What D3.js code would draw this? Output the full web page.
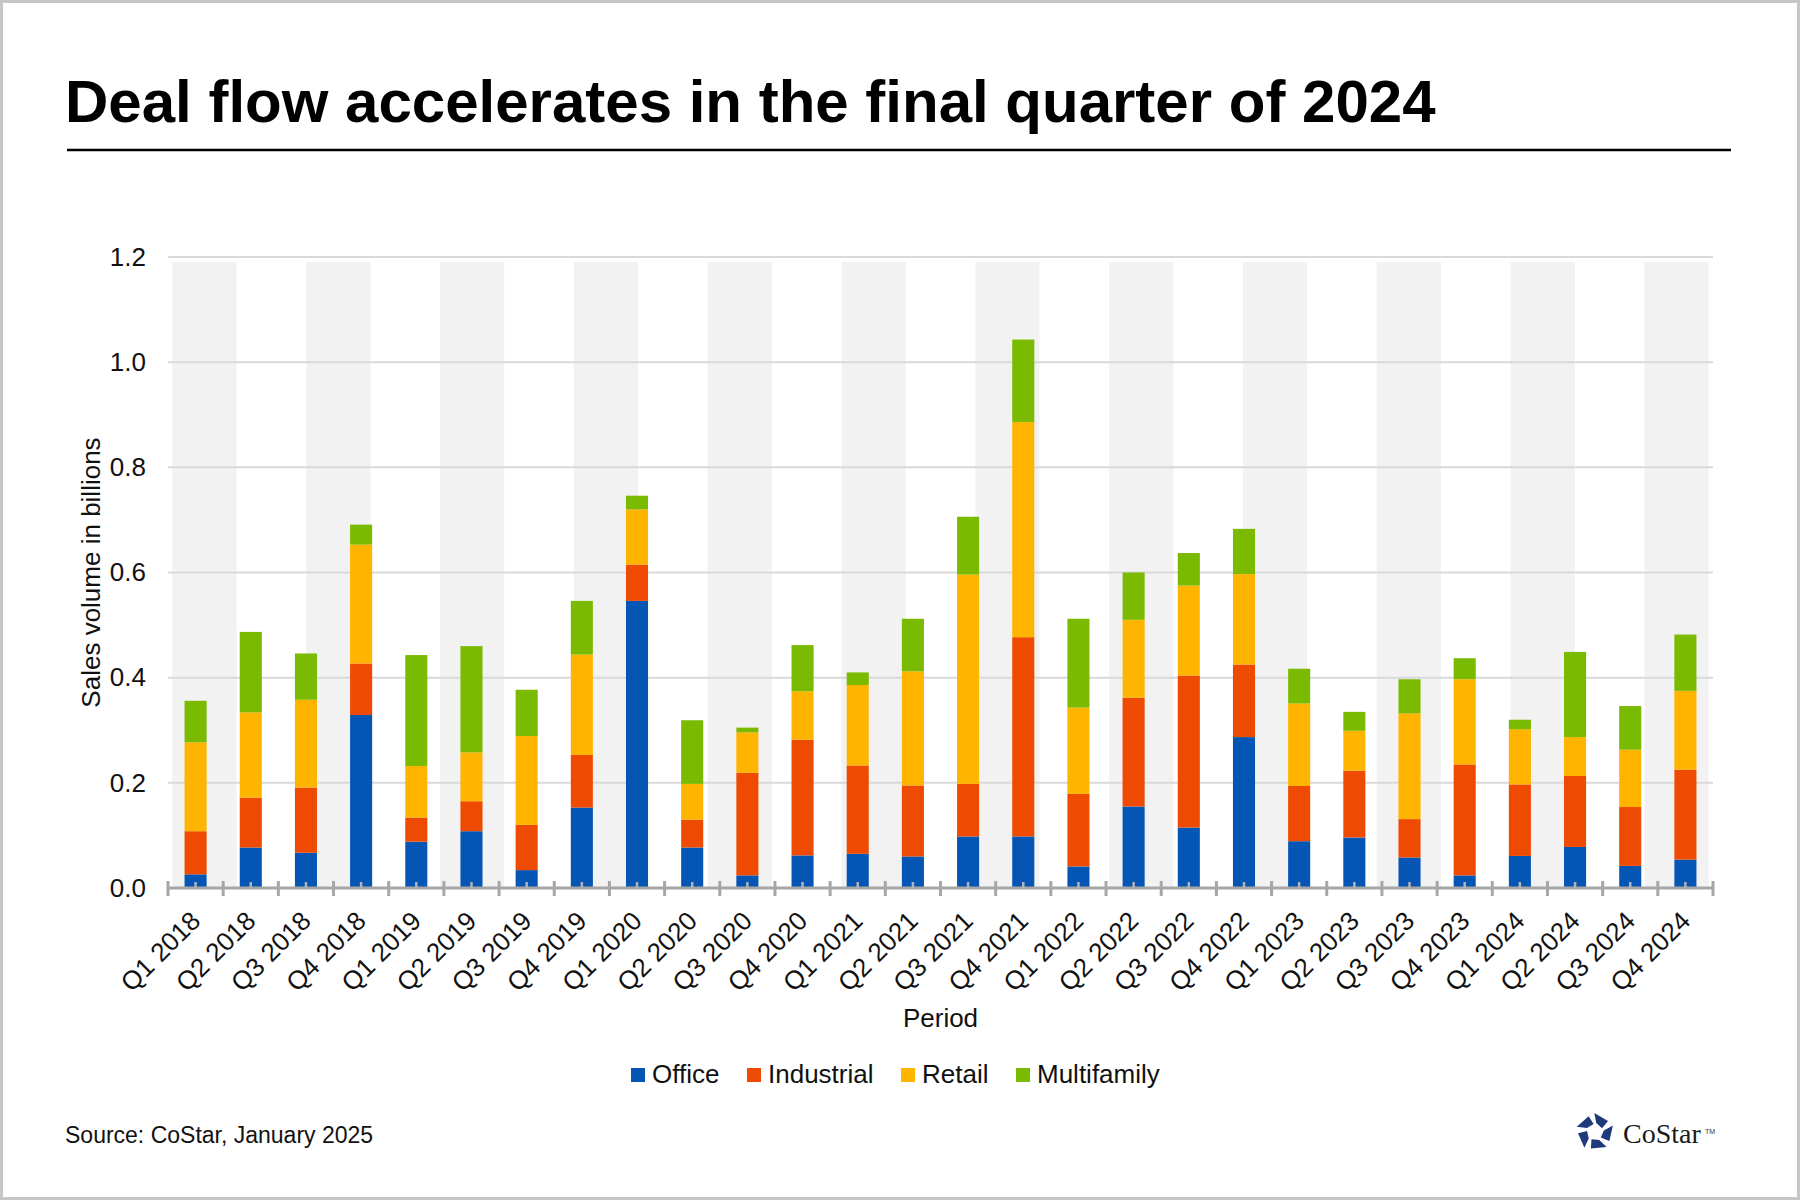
<!DOCTYPE html>
<html>
<head>
<meta charset="utf-8">
<script src="https://cdn.jsdelivr.net/npm/d3@7"></script>
<style>
  body { margin: 0; background: #fff; }
  svg text { font-family: "Liberation Sans", Arial, sans-serif; fill: #111; }
</style>
</head>
<body>
<div id="chart"></div>
<script>
// 季度標籤
const periods = [
  'Q1 2018', 'Q2 2018', 'Q3 2018', 'Q4 2018',
  'Q1 2019', 'Q2 2019', 'Q3 2019', 'Q4 2019',
  'Q1 2020', 'Q2 2020', 'Q3 2020', 'Q4 2020',
  'Q1 2021', 'Q2 2021', 'Q3 2021', 'Q4 2021',
  'Q1 2022', 'Q2 2022', 'Q3 2022', 'Q4 2022',
  'Q1 2023', 'Q2 2023', 'Q3 2023', 'Q4 2023',
  'Q1 2024', 'Q2 2024', 'Q3 2024', 'Q4 2024'
];

// 各類別成交量 (十億)
const office      = [0.026, 0.077, 0.067, 0.329, 0.088, 0.108, 0.034, 0.153, 0.546, 0.077, 0.024, 0.062, 0.065, 0.060,
                     0.098, 0.098, 0.041, 0.155, 0.115, 0.287, 0.089, 0.096, 0.058, 0.024, 0.061, 0.078, 0.042, 0.054];
const industrial  = [0.082, 0.095, 0.124, 0.098, 0.046, 0.057, 0.086, 0.100, 0.069, 0.053, 0.195, 0.220, 0.168, 0.135,
                     0.100, 0.379, 0.138, 0.207, 0.289, 0.138, 0.105, 0.127, 0.073, 0.211, 0.136, 0.135, 0.112, 0.171];
const retail      = [0.169, 0.162, 0.167, 0.226, 0.098, 0.093, 0.169, 0.191, 0.105, 0.068, 0.077, 0.092, 0.153, 0.217,
                     0.398, 0.409, 0.164, 0.148, 0.171, 0.172, 0.157, 0.076, 0.201, 0.162, 0.105, 0.074, 0.109, 0.150];
const multifamily = [0.079, 0.153, 0.088, 0.038, 0.211, 0.202, 0.088, 0.102, 0.026, 0.121, 0.009, 0.088, 0.024, 0.100,
                     0.110, 0.157, 0.169, 0.090, 0.062, 0.086, 0.066, 0.036, 0.065, 0.040, 0.018, 0.162, 0.083, 0.107];

const seriesNames = ['Office', 'Industrial', 'Retail', 'Multifamily'];
const seriesColors = ['#0556b4', '#ee4a02', '#ffb400', '#7aba00'];
const yTicks = [0, 0.2, 0.4, 0.6, 0.8, 1.0, 1.2];
const STRIPE_COUNT = 23; // 背景灰白條紋數

const width = 1800, height = 1200;
const plot = { left: 168, right: 1713, top: 257, bottom: 888 };

const svg = d3.select('#chart')
  .append('svg')
  .attr('width', width)
  .attr('height', height)
  .attr('viewBox', `0 0 ${width} ${height}`);

// 外框
svg.append('rect')
  .attr('x', 1.5).attr('y', 1.5)
  .attr('width', width - 3).attr('height', height - 3)
  .attr('fill', '#fff')
  .attr('stroke', '#c6c6c6')
  .attr('stroke-width', 3);

// 標題
svg.append('text')
  .attr('x', 65).attr('y', 122)
  .style('font-size', '60px')
  .style('font-weight', 'bold')
  .style('fill', '#000')
  .text('Deal flow accelerates in the final quarter of 2024');

svg.append('line')
  .attr('x1', 67).attr('x2', 1731)
  .attr('y1', 150).attr('y2', 150)
  .attr('stroke', '#000')
  .attr('stroke-width', 2.5);

// 堆疊資料
const rows = periods.map((p, i) => ({
  period: p,
  Office: office[i],
  Industrial: industrial[i],
  Retail: retail[i],
  Multifamily: multifamily[i]
}));
const stacked = d3.stack().keys(seriesNames)(rows);

const x = d3.scaleBand()
  .domain(periods)
  .range([plot.left, plot.right])
  .paddingInner(0.6)
  .paddingOuter(0.3);

const y = d3.scaleLinear()
  .domain([0, 1.2])
  .range([plot.bottom, plot.top]);

// 背景條紋
const stripe = d3.scaleBand()
  .domain(d3.range(STRIPE_COUNT))
  .range([plot.left + 3, plot.right - 3])
  .paddingInner(0.04)
  .paddingOuter(0.02);

svg.append('g')
  .selectAll('rect')
  .data(d3.range(0, STRIPE_COUNT, 2))
  .enter().append('rect')
  .attr('x', d => stripe(d))
  .attr('y', y(1.2) + 5)
  .attr('width', stripe.bandwidth())
  .attr('height', y(0) - y(1.2) - 5)
  .attr('fill', '#f2f2f2');

// 水平網格線
svg.append('g')
  .selectAll('line')
  .data(yTicks.filter(t => t > 0))
  .enter().append('line')
  .attr('x1', plot.left).attr('x2', plot.right)
  .attr('y1', d => y(d)).attr('y2', d => y(d))
  .attr('stroke', '#d9d9d9')
  .attr('stroke-width', 2);

// Y 軸
const yAxis = svg.append('g')
  .attr('transform', `translate(${plot.left},0)`)
  .call(d3.axisLeft(y).tickValues(yTicks).tickFormat(d3.format('.1f')).tickSize(0).tickPadding(22));
yAxis.select('.domain').remove();
yAxis.selectAll('text')
  .style('font-size', '26px')
  .style('font-family', '"Liberation Sans", Arial, sans-serif')
  .attr('fill', '#111');

svg.append('text')
  .attr('transform', `translate(100, ${(plot.top + plot.bottom) / 2}) rotate(-90)`)
  .attr('text-anchor', 'middle')
  .style('font-size', '26px')
  .text('Sales volume in billions');

// 堆疊長條
svg.append('g')
  .selectAll('g')
  .data(stacked)
  .enter().append('g')
  .attr('fill', (d, i) => seriesColors[i])
  .selectAll('rect')
  .data(d => d)
  .enter().append('rect')
  .attr('x', d => x(d.data.period))
  .attr('y', d => y(d[1]))
  .attr('width', x.bandwidth())
  .attr('height', d => y(d[0]) - y(d[1]));

// X 軸線與刻度
const axisY = y(0);
const boundary = d3.scaleLinear().domain([0, periods.length]).range([plot.left, plot.right]);

svg.append('line')
  .attr('x1', plot.left).attr('x2', plot.right)
  .attr('y1', axisY).attr('y2', axisY)
  .attr('stroke', '#a6a6a6')
  .attr('stroke-width', 3);

svg.append('g')
  .selectAll('line')
  .data(d3.range(periods.length + 1))
  .enter().append('line')
  .attr('x1', d => boundary(d)).attr('x2', d => boundary(d))
  .attr('y1', axisY - 7).attr('y2', axisY + 8)
  .attr('stroke', '#a6a6a6')
  .attr('stroke-width', 3);

svg.append('g')
  .selectAll('line')
  .data(periods)
  .enter().append('line')
  .attr('x1', d => x(d) + x.bandwidth() / 2).attr('x2', d => x(d) + x.bandwidth() / 2)
  .attr('y1', axisY - 6).attr('y2', axisY)
  .attr('stroke', '#b4b4b4')
  .attr('stroke-width', 2.5);

// X 軸標籤 (斜 45 度)
svg.append('g')
  .selectAll('text')
  .data(periods)
  .enter().append('text')
  .attr('transform', d => `translate(${x(d) + x.bandwidth() / 2}, ${axisY + 28}) rotate(-45)`)
  .attr('text-anchor', 'end')
  .attr('dy', '0.35em')
  .style('font-size', '26px')
  .text(d => d);

svg.append('text')
  .attr('x', (plot.left + plot.right) / 2)
  .attr('y', 1027)
  .attr('text-anchor', 'middle')
  .style('font-size', '26px')
  .text('Period');

// 圖例
const legendX = [631, 747, 901, 1016];
const legend = svg.append('g');
seriesNames.forEach((name, i) => {
  legend.append('rect')
    .attr('x', legendX[i]).attr('y', 1068)
    .attr('width', 14).attr('height', 14)
    .attr('fill', seriesColors[i]);
  legend.append('text')
    .attr('x', legendX[i] + 21).attr('y', 1083)
    .style('font-size', '26px')
    .text(name);
});

// 資料來源
svg.append('text')
  .attr('x', 65).attr('y', 1143)
  .style('font-size', '23px')
  .text('Source: CoStar, January 2025');

// CoStar 標誌
const logo = svg.append('g').attr('transform', 'translate(1595, 1132)');
const polar = (r, deg) => [r * Math.cos(deg * Math.PI / 180), r * Math.sin(deg * Math.PI / 180)];
d3.range(5).forEach(k => {
  const a = -90 + 72 * k;
  const pts = [polar(19, a - 2), polar(17, a + 50), polar(8, a + 62), polar(9, a + 8)];
  logo.append('polygon')
    .attr('points', pts.map(p => p.join(',')).join(' '))
    .attr('fill', '#1f3a7a');
});
svg.append('text')
  .attr('x', 1623).attr('y', 1143)
  .style('font-family', '"Liberation Serif", "Times New Roman", serif')
  .style('font-size', '28px')
  .style('fill', '#1a1a1a')
  .text('CoStar');
svg.append('text')
  .attr('x', 1705).attr('y', 1134)
  .style('font-size', '7px')
  .style('fill', '#333')
  .text('TM');
</script>
</body>
</html>
